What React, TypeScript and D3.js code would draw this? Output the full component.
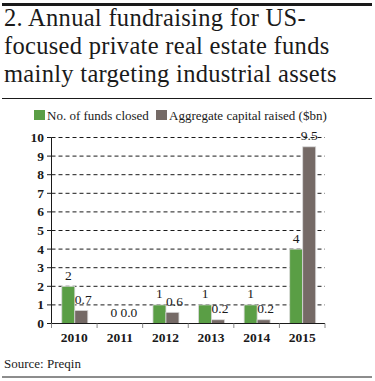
import React, { useEffect, useState } from "react";
import * as d3 from "d3";

const years = ["2010", "2011", "2012", "2013", "2014", "2015"];
const fundsClosed = [2, 0, 1, 1, 1, 4];
const capitalRaised = [0.7, 0.0, 0.6, 0.2, 0.2, 9.5];
const fundsLabels = ["2", "0", "1", "1", "1", "4"];
const capitalLabels = ["0.7", "0.0", "0.6", "0.2", "0.2", "9.5"];
const yTicks = [0, 1, 2, 3, 4, 5, 6, 7, 8, 9, 10];
const titleLines = [
  "2. Annual fundraising for US-",
  "focused private real estate funds",
  "mainly targeting industrial assets",
];
const seriesNames = ["No. of funds closed", "Aggregate capital raised ($bn)"];
const colors = ["#5a9e45", "#756a66"];

const W = 375;
const H = 381;
const FONT = "Liberation Serif";
const ts = { fontFamily: FONT };

export default function App() {
  const [, setTick] = useState(0);
  useEffect(() => {
    const f = (document as any).fonts;
    if (f && f.load) {
      Promise.all([f.load('13px "Liberation Serif"'), f.load('bold 13px "Liberation Serif"')])
        .then(() => setTick((t) => t + 1))
        .catch(() => {});
    }
  }, []);

  const x0 = d3.scaleBand().domain(years).range([51.5, 325]).paddingInner(0).paddingOuter(0);
  const y = d3.scaleLinear().domain([0, 10]).range([323.5, 137.5]);
  const barW = 13;
  const offset = (x0.bandwidth() - 2 * barW) / 2 + 0.5;

  return (
    <svg width={W} height={H} style={{ position: "absolute", left: 0, top: 0 }}>
      <rect x={0} y={0} width={W} height={H} fill="#fff" />
      <line x1={2} x2={372} y1={4.5} y2={4.5} stroke="#1a1a1a" strokeWidth={3} />
      {titleLines.map((t, i) => (
        <text key={i} x={4} y={26 + i * 27.8} fontSize={24.5} letterSpacing={0.3} fill="#1a1a1a" style={ts}>
          {t}
        </text>
      ))}
      <line x1={2} x2={372} y1={98.5} y2={98.5} stroke="#1a1a1a" strokeWidth={1} />

      {/* legend */}
      <rect x={34} y={110} width={11} height={10} fill={colors[0]} />
      <text x={47} y={119.5} fontSize={13} fill="#1a1a1a" style={ts}>{seriesNames[0]}</text>
      <rect x={156} y={110} width={11} height={10} fill={colors[1]} />
      <text x={169} y={119.5} fontSize={13} fill="#1a1a1a" style={ts}>{seriesNames[1]}</text>

      {/* grid */}
      {yTicks.map((t) => (
        <g key={t}>
          {t > 0 && (
            <line x1={51.5} x2={325} y1={y(t)} y2={y(t)} stroke="#1a1a1a" strokeWidth={1} strokeDasharray="4,3" />
          )}
          <line x1={47} x2={51.5} y1={y(t)} y2={y(t)} stroke="#1a1a1a" strokeWidth={1} />
          <text x={44} y={y(t) + 4.5} fontSize={13.5} fontWeight="bold" textAnchor="end" fill="#1a1a1a" style={ts}>
            {t}
          </text>
        </g>
      ))}

      {/* bars */}
      {years.map((yr, i) => {
        const bx = (x0(yr) as number) + offset;
        const vals = [fundsClosed[i], capitalRaised[i]];
        const labs = [fundsLabels[i], capitalLabels[i]];
        return (
          <g key={yr}>
            {vals.map((v, j) => (
              <g key={j}>
                {v > 0 && (
                  <rect
                    x={bx + j * barW}
                    y={y(v)}
                    width={barW}
                    height={y(0) - y(v)}
                    fill={colors[j]}
                    stroke="#d8d8d8"
                    strokeWidth={0.8}
                  />
                )}
                <text
                  x={bx + j * barW + barW / 2 + (j === 1 && v < 5 ? 2 : 0)}
                  y={y(v) - 6.5}
                  fontSize={13.5}
                  textAnchor="middle"
                  fill="#1a1a1a"
                  style={ts}
                >
                  {labs[j]}
                </text>
              </g>
            ))}
          </g>
        );
      })}

      {/* axes */}
      <line x1={51.5} x2={51.5} y1={137.5} y2={323.5} stroke="#1a1a1a" strokeWidth={1} />
      <line x1={51.5} x2={325} y1={323.5} y2={323.5} stroke="#1a1a1a" strokeWidth={1.2} />
      {years.map((yr) => (
        <line key={yr} x1={x0(yr) as number} x2={x0(yr) as number} y1={323.5} y2={328} stroke="#888" strokeWidth={1} />
      ))}
      <line x1={325} x2={325} y1={323.5} y2={328} stroke="#888" strokeWidth={1} />
      {years.map((yr) => (
        <text
          key={yr}
          x={(x0(yr) as number) + x0.bandwidth() / 2}
          y={341.5}
          fontSize={13.5}
          fontWeight="bold"
          textAnchor="middle"
          fill="#1a1a1a"
          style={ts}
        >
          {yr}
        </text>
      ))}

      <text x={4} y={368} fontSize={13} fill="#1a1a1a" style={ts}>Source: Preqin</text>
      <line x1={2} x2={372} y1={377} y2={377} stroke="#1a1a1a" strokeWidth={1} />
    </svg>
  );
}
